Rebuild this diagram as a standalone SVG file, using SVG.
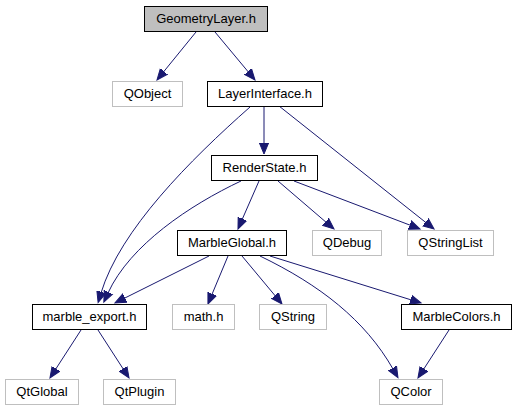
<svg xmlns="http://www.w3.org/2000/svg" width="517" height="411" viewBox="0 0 517 411">
<style>
.n rect{fill:#ffffff;stroke:#000000;stroke-width:1}
.n.ext rect{stroke:#bfbfbf}
.n.root rect{fill:#bfbfbf}
.n text{font-family:"Liberation Sans",Arial,sans-serif;font-size:13px;fill:#000000;text-anchor:middle}
.e path{fill:none;stroke:#191970;stroke-width:1}
</style>
<defs>
<marker id="ah" markerUnits="userSpaceOnUse" markerWidth="13" markerHeight="12" viewBox="0 -6 13 12" refX="1" refY="0" orient="auto">
<path d="M0,-4.6 L11,0 L0,4.6 Z" fill="#191970" stroke="#191970" stroke-width="1"/>
</marker>
</defs>
<rect width="517" height="411" fill="#ffffff"/>
<g id="edges" class="e">
<path d="M196,32 L163.3,72.2" marker-end="url(#ah)"/>
<path d="M215,32 L248.6,72.3" marker-end="url(#ah)"/>
<path d="M264,106 L264,144" marker-end="url(#ah)"/>
<path d="M250,107 C190,160 120,230 101,293" marker-end="url(#ah)"/>
<path d="M279,106 L426.2,222.8" marker-end="url(#ah)"/>
<path d="M259,181 L242,219.8" marker-end="url(#ah)"/>
<path d="M241,181 C190,205 130,245 108,293" marker-end="url(#ah)"/>
<path d="M278,181 L326.4,222.5" marker-end="url(#ah)"/>
<path d="M294,181 L410.7,225.4" marker-end="url(#ah)"/>
<path d="M209,256 L123.9,298.5" marker-end="url(#ah)"/>
<path d="M228,256 L211.8,294.8" marker-end="url(#ah)"/>
<path d="M242,256 L275.6,296.3" marker-end="url(#ah)"/>
<path d="M260,256 C320,285 365,320 393,369" marker-end="url(#ah)"/>
<path d="M270,256 L411.5,300" marker-end="url(#ah)"/>
<path d="M449,330 L423.4,369.6" marker-end="url(#ah)"/>
<path d="M81,330 L55.4,369.6" marker-end="url(#ah)"/>
<path d="M98,330 L123.6,369.6" marker-end="url(#ah)"/>
</g>
<g id="GeometryLayer" class="n root"><rect x="144.5" y="6.5" width="123" height="25"/><text x="206" y="23">GeometryLayer.h</text></g>
<g id="QObject" class="n ext"><rect x="112.5" y="81.5" width="70" height="25"/><text x="147.5" y="98">QObject</text></g>
<g id="LayerInterface" class="n"><rect x="207.5" y="81.5" width="115" height="25"/><text x="265" y="98">LayerInterface.h</text></g>
<g id="RenderState" class="n"><rect x="211.5" y="155.5" width="106" height="25"/><text x="264.5" y="172">RenderState.h</text></g>
<g id="MarbleGlobal" class="n"><rect x="177.5" y="230.5" width="109" height="25"/><text x="232" y="247">MarbleGlobal.h</text></g>
<g id="QDebug" class="n ext"><rect x="312.5" y="230.5" width="69" height="25"/><text x="347" y="247">QDebug</text></g>
<g id="QStringList" class="n ext"><rect x="407.5" y="230.5" width="86" height="25"/><text x="450.5" y="247">QStringList</text></g>
<g id="marble_export" class="n"><rect x="32.5" y="304.5" width="114" height="25"/><text x="89.5" y="321">marble_export.h</text></g>
<g id="math" class="n ext"><rect x="172.5" y="304.5" width="62" height="25"/><text x="203.5" y="321">math.h</text></g>
<g id="QString" class="n ext"><rect x="259.5" y="304.5" width="67" height="25"/><text x="293" y="321">QString</text></g>
<g id="MarbleColors" class="n"><rect x="401.5" y="304.5" width="110" height="25"/><text x="456.5" y="321">MarbleColors.h</text></g>
<g id="QtGlobal" class="n ext"><rect x="5.5" y="379.5" width="73" height="25"/><text x="42" y="396">QtGlobal</text></g>
<g id="QtPlugin" class="n ext"><rect x="103.5" y="379.5" width="72" height="25"/><text x="139.5" y="396">QtPlugin</text></g>
<g id="QColor" class="n ext"><rect x="379.5" y="379.5" width="63" height="25"/><text x="411" y="396">QColor</text></g>
</svg>
